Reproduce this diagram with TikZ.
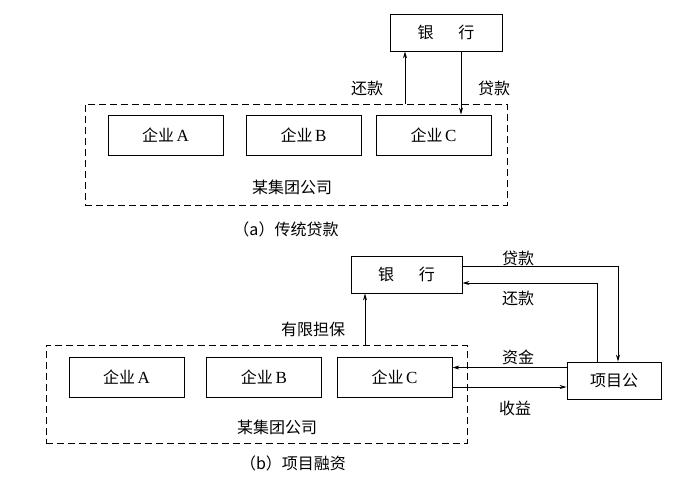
\documentclass[tikz,border=0pt]{standalone}
\usepackage{fontspec}
\setmainfont{Liberation Serif}
\newfontfamily\cjk{Noto Sans CJK SC}
\usetikzlibrary{arrows.meta}
\newcommand{\qiye}[1]{{\cjk 企业}\,{\fontsize{17}{18}\selectfont #1}}

\begin{document}
\begin{tikzpicture}[x=1pt,y=-1pt,font=\fontsize{16}{18}\selectfont,
	box/.style={draw,line width=0.8pt,inner sep=0pt,minimum width=115pt,minimum height=40pt},
	group/.style={draw,line width=0.8pt,dash pattern=on 7pt off 4pt,inner sep=0pt},
	arr/.style={-{Stealth[length=7pt,width=4pt]},line width=0.8pt},
	lbl/.style={font=\cjk\fontsize{16}{18}\selectfont}]
	\useasboundingbox (0,0) rectangle (691,477);
	% (a)
	\node[box,minimum width=112pt,minimum height=37pt] (banka) at (446,32.5) {\cjk 银\hspace{25pt}行};
	\node[group,minimum width=422pt,minimum height=101pt] (grpa) at (296,154.5) {};
	\node[box] (qa) at (165.5,135) {\qiye{A}};
	\node[box] (qb) at (303.5,135) {\qiye{B}};
	\node[box] (qc) at (433.5,135) {\qiye{C}};
	\node[lbl] (grpalbl) at (292,187) {某集团公司};
	\draw[arr] ([xshift=-41pt]banka.south |- grpa.north) -- ([xshift=-41pt]banka.south);
	\draw[arr] ([xshift=15pt]banka.south) -- ([xshift=15pt]banka.south |- qc.north);
	\node[lbl] (hka) at (367,88) {还款};
	\node[lbl] (dka) at (494,88) {贷款};
	\node[lbl] (capa) at (286,229) {（a）传统贷款};
	% (b)
	\node[box,minimum width=111pt,minimum height=37pt] (bankb) at (406.5,274.5) {\cjk 银\hspace{25pt}行};
	\node[group,minimum width=421pt,minimum height=98pt] (grpb) at (256.5,394) {};
	\node[box] (pa) at (126.5,377) {\qiye{A}};
	\node[box] (pb) at (264,377) {\qiye{B}};
	\node[box] (pc) at (394.5,377) {\qiye{C}};
	\node[box,minimum width=94pt,minimum height=37pt] (xm) at (614,380.5) {\cjk 项目公};
	\node[lbl] (grpblbl) at (277,427) {某集团公司};
	\draw[arr] ([xshift=-41.5pt]bankb.south |- grpb.north) -- ([xshift=-41.5pt]bankb.south);
	\draw[arr] ([yshift=8.5pt]bankb.east) -| ([xshift=4pt]xm.north);
	\draw[arr] ([xshift=-17pt]xm.north) |- ([yshift=-8.5pt]bankb.east);
	\draw[arr] ([yshift=13pt]xm.west) -- ([yshift=13pt]xm.west -| pc.east);
	\draw[arr] ([yshift=-10pt]pc.east) -- ([yshift=-10pt]pc.east -| xm.west);
	\node[lbl] (yxdb) at (313,329) {有限担保};
	\node[lbl] (dkb) at (518,258) {贷款};
	\node[lbl] (hkb) at (518,298) {还款};
	\node[lbl] (zj) at (518,357) {资金};
	\node[lbl] (sy) at (515,408) {收益};
	\node[lbl] (capb) at (293,463) {（b）项目融资};
\end{tikzpicture}
\end{document}
